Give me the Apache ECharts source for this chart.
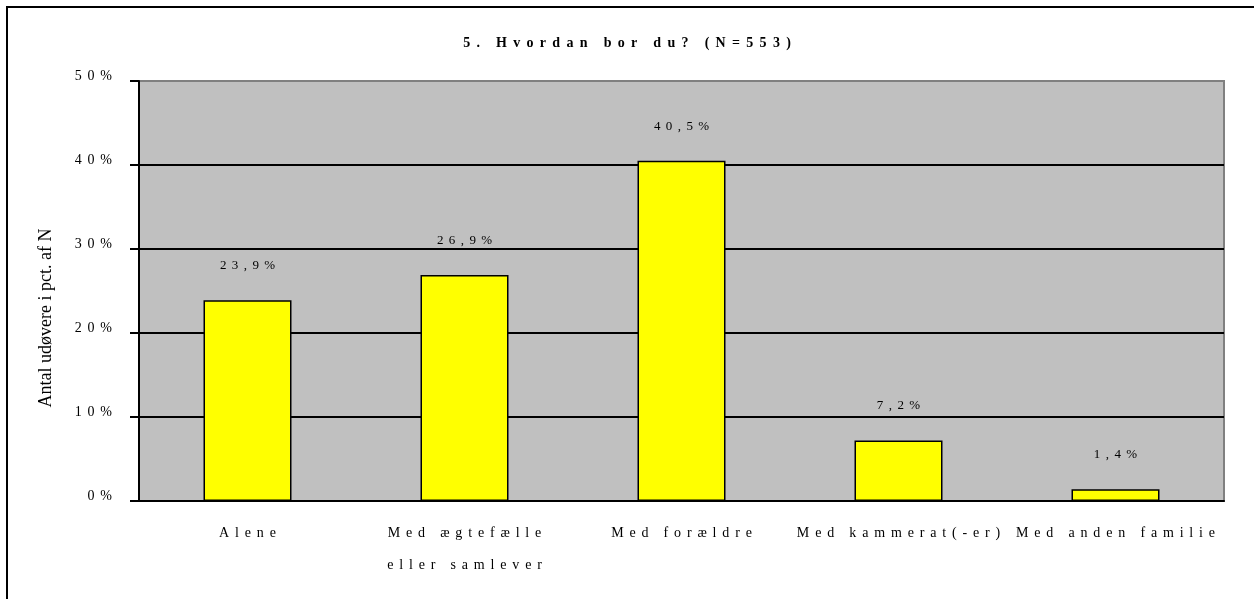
<!DOCTYPE html>
<html style="height: 100%">
<head>
    <meta charset="utf-8">
</head>
<body style="height: 100%; margin: 0; background: #fff">
    <div id="container" style="width: 1254px; height: 599px"></div>
    <script type="text/javascript" src="https://cdn.jsdelivr.net/npm/echarts@6/dist/echarts.min.js"></script>
    <script type="text/javascript">
        var categories = ['Alene', 'Med ægtefælle\neller samlever', 'Med forældre', 'Med kammerat(-er)', 'Med anden familie'];
        var values = [23.9, 26.9, 40.5, 7.2, 1.4];
        var titleText = '5. Hvordan bor du? (N=553)';
        var yName = 'Antal udøvere i pct. af N';

        // old Excel look: wide letter spacing, faked with spaces
        function spread(s, gap) {
            gap = gap || ' \u2006';
            return s.split('\n').map(function (line) {
                return Array.from(line).join(gap);
            }).join('\n');
        }

        var font = '"Liberation Serif", "Times New Roman", serif';
        var myChart = echarts.init(document.getElementById('container'));

        var option = {
            backgroundColor: '#fff',
            animation: false,
            title: {
                text: spread(titleText, ' \u2009'),
                left: 'center',
                top: 31,
                textStyle: { fontFamily: font, fontSize: 14, fontWeight: 'bold', color: '#000' }
            },
            grid: {
                left: 139, right: 30, top: 81, bottom: 98,
                show: true,
                backgroundColor: '#c0c0c0',
                borderColor: '#808080',
                borderWidth: 2
            },
            graphic: [{
                type: 'rect',
                shape: { x: 7, y: 7, width: 1400, height: 800 },
                style: { fill: 'none', stroke: '#000', lineWidth: 2 },
                silent: true
            }, {
                type: 'text',
                x: 46, y: 318,
                rotation: Math.PI / 2,
                style: {
                    text: yName,
                    font: '18px ' + font,
                    fill: '#000',
                    align: 'center',
                    verticalAlign: 'middle'
                }
            }],
            xAxis: {
                type: 'category',
                data: categories,
                axisLine: { lineStyle: { color: '#000', width: 2 } },
                axisTick: { length: 8, lineStyle: { color: '#000', width: 2 } },
                axisLabel: {
                    interval: 0,
                    margin: 16,
                    color: '#000',
                    fontFamily: font,
                    fontSize: 14,
                    lineHeight: 32,
                    formatter: function (v) { return spread(v); }
                }
            },
            yAxis: {
                type: 'value',
                min: 0, max: 50, interval: 10,
                axisLine: { show: true, lineStyle: { color: '#000', width: 2 } },
                axisTick: { show: true, length: 9, lineStyle: { color: '#000', width: 2 } },
                axisLabel: {
                    margin: 27,
                    color: '#000',
                    fontFamily: font,
                    fontSize: 14,
                    verticalAlign: 'bottom',
                    lineHeight: 10,
                    formatter: function (v) { return spread(v + '%'); }
                },
                splitLine: { lineStyle: { color: ['#000', '#000', '#000', '#000', '#000', '#808080'], width: 2 } }
            },
            series: [{
                type: 'bar',
                data: values,
                barWidth: 88,
                itemStyle: { color: '#ffff00', borderColor: '#000', borderWidth: 1.5 },
                label: {
                    show: true,
                    position: 'top',
                    distance: 28,
                    color: '#000',
                    fontFamily: font,
                    fontSize: 13,
                    formatter: function (p) { return spread(p.value.toFixed(1).replace('.', ',') + '%'); }
                }
            }]
        };
        myChart.setOption(option);
    </script>
</body>
</html>
